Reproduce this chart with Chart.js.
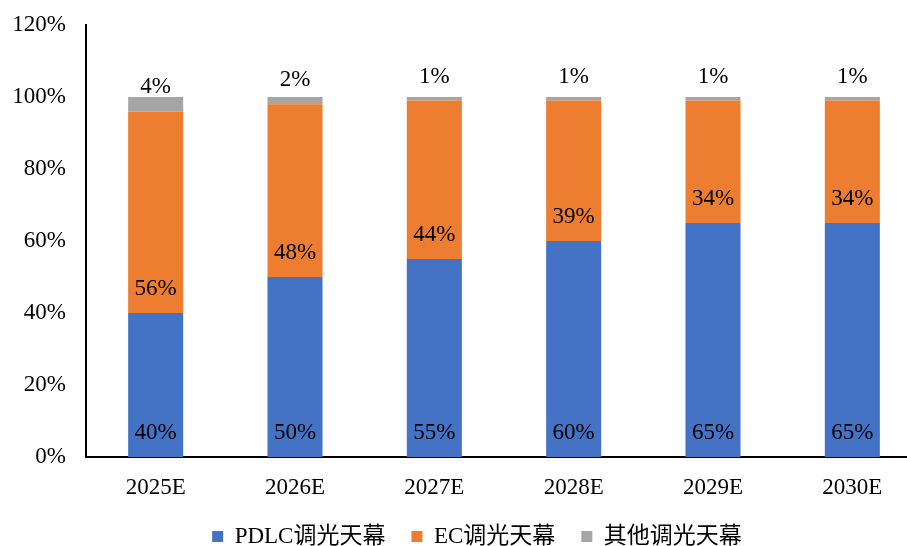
<!DOCTYPE html>
<html>
<head>
<meta charset="utf-8">
<script src="https://cdn.jsdelivr.net/npm/chart.js@4/dist/chart.umd.min.js"></script>
<style>
  html, body { margin: 0; padding: 0; background: #fff; overflow: hidden; }
  canvas { display: block; }
</style>
</head>
<body>
<canvas id="chart" width="922" height="558"></canvas>
<script>
var years = ['2025E', '2026E', '2027E', '2028E', '2029E', '2030E'];
var pdlc = [40, 50, 55, 60, 65, 65];
var ec = [56, 48, 44, 39, 34, 34];
var other = [4, 2, 1, 1, 1, 1];
var yTicks = [0, 20, 40, 60, 80, 100, 120];

var serif = "'Liberation Serif', 'Times New Roman', 'Noto Sans CJK SC', serif";

// labels sit just above the base of every segment, like Excel "inside base"
var segLabels = {
    id: 'segLabels',
    afterLayout: function(chart) {
        // legend in the original sits a little right of centre
        chart.legend.left += 16;
        chart.legend.right += 16;
    },
    afterDatasetsDraw: function(chart) {
        var c = chart.ctx;
        c.save();
        c.font = '23px ' + serif;
        c.fillStyle = '#000';
        c.textAlign = 'center';
        c.textBaseline = 'middle';
        chart.data.datasets.forEach(function(ds, i) {
            chart.getDatasetMeta(i).data.forEach(function(bar, j) {
                c.fillText(ds.data[j] + '%', bar.x, bar.base - 24);
            });
        });
        c.restore();
    }
};

var ctx = document.getElementById('chart');
var chart = new Chart(ctx, {
    type: 'bar',
    data: {
        labels: years,
        datasets: [
            { label: 'PDLC调光天幕', data: pdlc, backgroundColor: '#4472C4' },
            { label: 'EC调光天幕', data: ec, backgroundColor: '#ED7D31' },
            { label: '其他调光天幕', data: other, backgroundColor: '#A5A5A5' }
        ]
    },
    options: {
        responsive: false,
        animation: false,
        layout: { padding: { top: 25, left: 0, right: 0, bottom: 0 } },
        datasets: { bar: { barPercentage: 0.395, categoryPercentage: 1 } },
        plugins: {
            tooltip: { enabled: false },
            legend: {
                position: 'bottom',
                labels: {
                    boxWidth: 11,
                    boxHeight: 11,
                    padding: 26,
                    color: '#000',
                    font: { size: 23, family: serif }
                }
            }
        },
        scales: {
            x: {
                stacked: true,
                afterFit: function(s) { s.height = 42; s.paddingLeft = 0; s.paddingRight = 0; },
                grid: { display: false, drawTicks: false },
                border: { display: true, color: '#000', width: 2 },
                ticks: { padding: 17, color: '#000', font: { size: 23, family: serif } }
            },
            y: {
                stacked: true,
                min: 0,
                max: 120,
                afterFit: function(s) { s.width = 86; s.paddingTop = 0; s.paddingBottom = 0; },
                afterBuildTicks: function(s) { s.ticks = yTicks.map(function(v) { return { value: v }; }); },
                grid: { display: false, drawTicks: false },
                border: { display: true, color: '#000', width: 2 },
                ticks: {
                    padding: 20,
                    color: '#000',
                    font: { size: 23, family: serif },
                    callback: function(v) { return v + '%'; }
                }
            }
        }
    },
    plugins: [segLabels]
});
</script>
</body>
</html>
